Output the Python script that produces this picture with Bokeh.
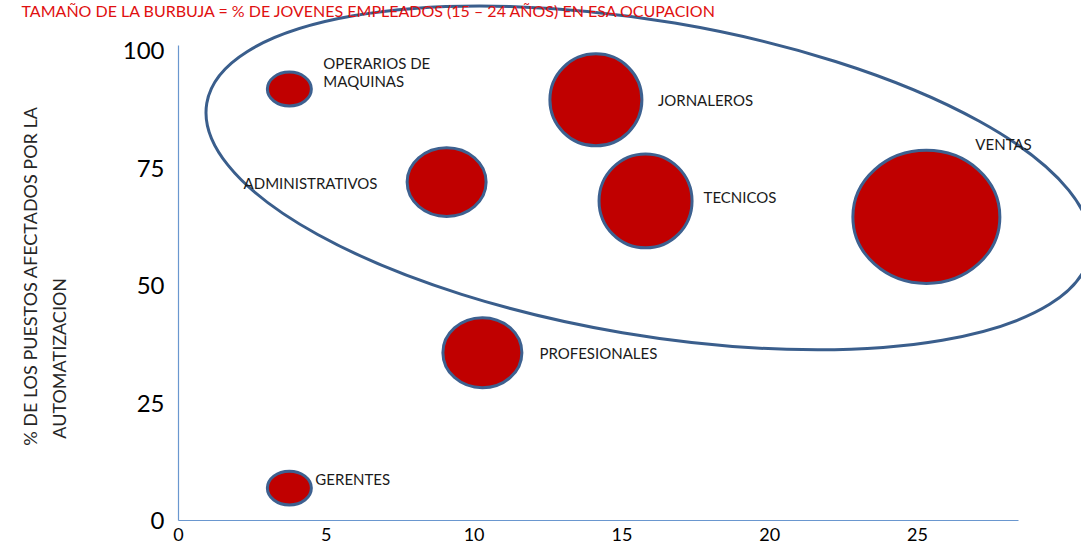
import math
from bokeh.plotting import figure
from bokeh.models import Range1d, FixedTicker, Label, ColumnDataSource
from bokeh.core.properties import value
from bokeh.embed import file_html
from bokeh.resources import INLINE

# ---------------- data ----------------
ocupaciones = ["OPERARIOS DE\nMAQUINAS", "GERENTES", "ADMINISTRATIVOS", "JORNALEROS",
               "TECNICOS", "VENTAS", "PROFESIONALES"]
pct_jovenes_x = [3.75, 3.75, 9.07, 14.12, 15.8, 25.3, 10.28]      # eje X
pct_automatizacion = [91.8, 6.9, 72.0, 89.5, 68.0, 64.6, 35.7]     # eje Y
tamano_burbuja = [4.4, 4.4, 7.9, 9.2, 9.3, 14.7, 7.9]              # tamaño burbuja

x_ticks = [0, 5, 10, 15, 20, 25]
y_ticks = [0, 25, 50, 75, 100]

titulo = "TAMAÑO DE LA BURBUJA = % DE JOVENES EMPLEADOS (15 – 24 AÑOS) EN ESA OCUPACION"
eje_y_linea1 = "% DE LOS PUESTOS AFECTADOS POR LA"
eje_y_linea2 = "AUTOMATIZACION"

# ---------------- styles ----------------
px_por_tamano = 10.0
aspecto = [0.77, 0.77, 0.87, 1.0, 1.01, 0.905, 0.886]
label_dx = [34, 26, -203, 62, 58, 49, 57]
label_dy = [-17, -9, 1, 0, -4, -73, 0]

zona_centro = (15.9, 72.9)
zona_ancho, zona_alto, zona_angulo = 896, 314, -9.6

FONT = "Lato"
RED = "#C00000"
EDGE = "#3D6190"
AXIS = "#6A97CF"

anchos = [t * px_por_tamano for t in tamano_burbuja]
altos = [w * a for w, a in zip(anchos, aspecto)]

src = ColumnDataSource(dict(x=pct_jovenes_x, y=pct_automatizacion, w=anchos, h=altos,
                            txt=ocupaciones, dx=label_dx, dy=label_dy))

p = figure(width=1081, height=544, x_range=Range1d(-6.022, 30.548), y_range=Range1d(-5.106, 110.64),
           output_backend="svg", toolbar_location=None,
           min_border_left=0, min_border_right=0, min_border_top=0, min_border_bottom=0)
p.outline_line_color = None
p.grid.visible = False
p.background_fill_color = "white"

for ax in (p.xaxis[0], p.yaxis[0]):
    ax.fixed_location = 0
    ax.axis_line_color = AXIS
    ax.axis_line_width = 1.2
    ax.major_tick_line_color = None
    ax.minor_tick_line_color = None
    ax.major_label_text_font = FONT
    ax.major_label_text_color = "#000000"

p.xaxis.ticker = FixedTicker(ticks=x_ticks)
p.xaxis.bounds = (0, 28.4)
p.xaxis.major_label_text_font_size = "18px"
p.xaxis.major_label_standoff = 1

p.yaxis.ticker = FixedTicker(ticks=y_ticks)
p.yaxis.bounds = (0, 101)
p.yaxis.major_label_text_font_size = "24px"
p.yaxis.major_label_standoff = 8

# big zone ellipse
p.ellipse(x=[zona_centro[0]], y=[zona_centro[1]], width=zona_ancho, height=zona_alto,
          width_units="screen", height_units="screen", angle=math.radians(zona_angulo),
          fill_color=None, line_color="#3A5E8C", line_width=3)

# bubbles
p.ellipse(x="x", y="y", width="w", height="h", width_units="screen", height_units="screen",
          source=src, fill_color=RED, line_color=EDGE, line_width=3)

p.text(x="x", y="y", text="txt", x_offset="dx", y_offset="dy", source=src,
       text_font=value(FONT), text_font_size="15px", text_color="#1a1a1a",
       text_align="left", text_baseline="middle", text_line_height=1.05)

p.add_layout(Label(x=-5.31, y=110.64, text=titulo, text_font=FONT,
                   text_font_size="16px", text_color="#E01010", text_baseline="top"))

p.add_layout(Label(x=-5.04, y=15.9, text=eje_y_linea1, angle=math.pi / 2,
                   text_font=FONT, text_font_size="18px", text_color="#262626",
                   text_align="left", text_baseline="middle"))
p.add_layout(Label(x=-4.03, y=17.4, text=eje_y_linea2, angle=math.pi / 2,
                   text_font=FONT, text_font_size="18px", text_color="#262626",
                   text_align="left", text_baseline="middle"))

open("out.html", "w").write(file_html(p, INLINE))
